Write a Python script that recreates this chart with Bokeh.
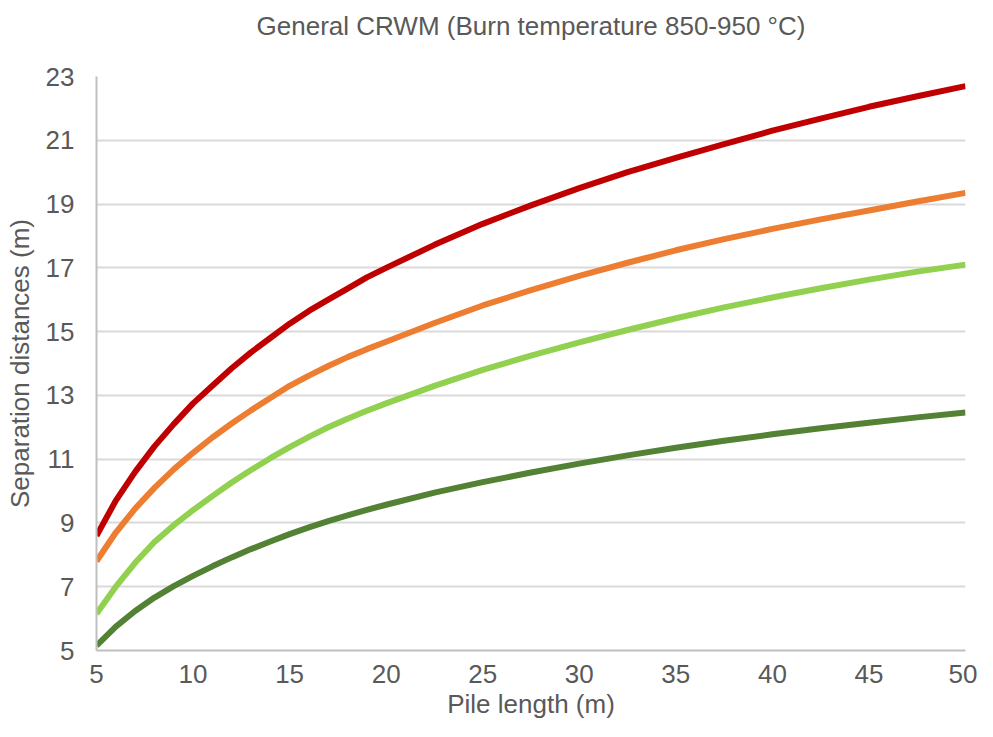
from bokeh.plotting import figure
from bokeh.models import Range1d, FixedTicker, LinearAxis
from bokeh.embed import file_html
from bokeh.resources import INLINE

# ---- data ----
pile_length = [5, 6, 7, 8, 9, 10, 11, 12, 13, 14, 15, 16, 17, 18, 19, 20,
               22.5, 25, 27.5, 30, 32.5, 35, 37.5, 40, 42.5, 45, 47.5, 50]

series_red = [8.6, 9.7, 10.6, 11.4, 12.1, 12.75, 13.3, 13.85, 14.35, 14.8, 15.25, 15.65,
              16.0, 16.35, 16.7, 17.0, 17.72, 18.38, 18.96, 19.5, 20.0, 20.45, 20.88,
              21.3, 21.68, 22.05, 22.38, 22.7]
series_orange = [7.8, 8.7, 9.45, 10.1, 10.68, 11.2, 11.68, 12.12, 12.53, 12.92, 13.3, 13.62,
                 13.92, 14.2, 14.45, 14.68, 15.27, 15.82, 16.3, 16.75, 17.16, 17.55, 17.9,
                 18.22, 18.52, 18.8, 19.08, 19.35]
series_lightgreen = [6.15, 7.0, 7.75, 8.4, 8.93, 9.4, 9.84, 10.27, 10.66, 11.03, 11.38, 11.7,
                     12.0, 12.27, 12.52, 12.75, 13.3, 13.8, 14.25, 14.66, 15.05, 15.42, 15.76,
                     16.07, 16.36, 16.63, 16.88, 17.1]
series_darkgreen = [5.15, 5.75, 6.24, 6.66, 7.02, 7.34, 7.64, 7.92, 8.18, 8.42, 8.65, 8.86,
                    9.06, 9.24, 9.41, 9.57, 9.95, 10.28, 10.58, 10.86, 11.12, 11.36, 11.58,
                    11.78, 11.97, 12.14, 12.31, 12.46]

series_colors = ["#C00000", "#ED7D31", "#92D050", "#548235"]

x_ticks = [5, 10, 15, 20, 25, 30, 35, 40, 45, 50]
y_ticks = [5, 7, 9, 11, 13, 15, 17, 19, 21, 23]

title_text = "General CRWM (Burn temperature 850-950 °C)"
x_label = "Pile length (m)"
y_label = "Separation distances (m)"

FONT = "Liberation Sans"
TEXT_COLOR = "#595959"
FS = "26px"

W, H = 977, 721
B_LEFT, B_RIGHT, B_TOP, B_BOTTOM = 96, 12, 76, 69

p = figure(width=W, height=H, output_backend="svg", toolbar_location=None,
           x_range=Range1d(5, 50), y_range=Range1d(5, 23),
           min_border_left=B_LEFT, min_border_right=B_RIGHT,
           min_border_top=B_TOP, min_border_bottom=B_BOTTOM)

p.title.text = title_text
p.title.align = "center"
p.title.vertical_align = "top"
p.title.text_font = FONT
p.title.text_font_size = FS
p.title.text_font_style = "normal"
p.title.text_color = TEXT_COLOR

p.outline_line_color = None
p.background_fill_color = "white"
p.border_fill_color = "white"

xax = p.below[0]
yax = p.left[0]
xax.ticker = FixedTicker(ticks=x_ticks)
yax.ticker = FixedTicker(ticks=y_ticks)

for ax in (xax, yax):
    ax.major_tick_line_color = None
    ax.minor_tick_line_color = None
    ax.major_tick_out = 0
    ax.major_tick_in = 0
    ax.major_label_text_font = FONT
    ax.major_label_text_font_size = FS
    ax.major_label_text_color = TEXT_COLOR
    ax.axis_label_text_font = FONT
    ax.axis_label_text_font_size = FS
    ax.axis_label_text_font_style = "normal"
    ax.axis_label_text_color = TEXT_COLOR
    ax.axis_line_color = "#BFBFBF"
    ax.axis_line_width = 2

xax.axis_label = x_label
yax.axis_label = y_label
xax.major_label_standoff = 14
xax.axis_label_standoff = 3
yax.major_label_standoff = 22
yax.axis_label_standoff = 8

p.xgrid.grid_line_color = None
p.ygrid.grid_line_color = "#D9D9D9"
p.ygrid.grid_line_width = 2

# invisible spacer between title and plot frame (pushes the title upward)
spacer = LinearAxis(ticker=FixedTicker(ticks=[]), axis_line_color=None,
                    major_tick_line_color=None, minor_tick_line_color=None,
                    major_tick_out=0, major_tick_in=0, minor_tick_out=0, minor_tick_in=0,
                    major_label_standoff=0, major_label_text_color=None,
                    axis_label=" ", axis_label_text_font_size="10px",
                    axis_label_standoff=15)
p.add_layout(spacer, "above")

for ys, c in zip([series_red, series_orange, series_lightgreen, series_darkgreen], series_colors):
    p.line(pile_length, ys, line_width=6, line_color=c, line_join="round")

open("out.html", "w").write(file_html(p, INLINE))
